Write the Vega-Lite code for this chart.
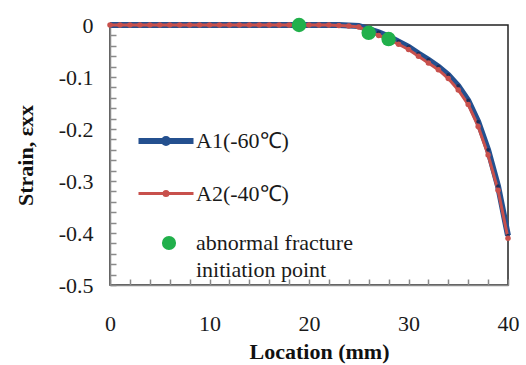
{
  "$schema": "https://vega.github.io/schema/vega-lite/v6.json",
  "width": 398,
  "height": 260,
  "autosize": "none",
  "padding": {"left": 110, "top": 25, "right": 18, "bottom": 80},
  "background": "white",
  "config": {
    "view": {"stroke": "#222222", "strokeWidth": 1.5},
    "font": "Liberation Serif, serif"
  },
  "datasets": {
    "curves": [
      {"series": "A1(-60℃)", "x": 0, "y": 0}, {"series": "A1(-60℃)", "x": 1, "y": 0}, {"series": "A1(-60℃)", "x": 2, "y": 0}, {"series": "A1(-60℃)", "x": 3, "y": 0}, {"series": "A1(-60℃)", "x": 4, "y": 0},
      {"series": "A1(-60℃)", "x": 5, "y": 0}, {"series": "A1(-60℃)", "x": 6, "y": 0}, {"series": "A1(-60℃)", "x": 7, "y": 0}, {"series": "A1(-60℃)", "x": 8, "y": 0}, {"series": "A1(-60℃)", "x": 9, "y": 0},
      {"series": "A1(-60℃)", "x": 10, "y": 0}, {"series": "A1(-60℃)", "x": 11, "y": 0}, {"series": "A1(-60℃)", "x": 12, "y": 0}, {"series": "A1(-60℃)", "x": 13, "y": 0}, {"series": "A1(-60℃)", "x": 14, "y": 0},
      {"series": "A1(-60℃)", "x": 15, "y": 0}, {"series": "A1(-60℃)", "x": 16, "y": 0}, {"series": "A1(-60℃)", "x": 17, "y": 0}, {"series": "A1(-60℃)", "x": 18, "y": 0}, {"series": "A1(-60℃)", "x": 19, "y": 0},
      {"series": "A1(-60℃)", "x": 20, "y": 0}, {"series": "A1(-60℃)", "x": 21, "y": 0}, {"series": "A1(-60℃)", "x": 22, "y": 0}, {"series": "A1(-60℃)", "x": 23, "y": 0}, {"series": "A1(-60℃)", "x": 24, "y": -0.001},
      {"series": "A1(-60℃)", "x": 25, "y": -0.002}, {"series": "A1(-60℃)", "x": 26, "y": -0.008}, {"series": "A1(-60℃)", "x": 27, "y": -0.014}, {"series": "A1(-60℃)", "x": 28, "y": -0.022}, {"series": "A1(-60℃)", "x": 29, "y": -0.032},
      {"series": "A1(-60℃)", "x": 30, "y": -0.042}, {"series": "A1(-60℃)", "x": 31, "y": -0.055}, {"series": "A1(-60℃)", "x": 32, "y": -0.067}, {"series": "A1(-60℃)", "x": 33, "y": -0.08}, {"series": "A1(-60℃)", "x": 34, "y": -0.096},
      {"series": "A1(-60℃)", "x": 35, "y": -0.117}, {"series": "A1(-60℃)", "x": 36, "y": -0.145}, {"series": "A1(-60℃)", "x": 37, "y": -0.186}, {"series": "A1(-60℃)", "x": 38, "y": -0.24}, {"series": "A1(-60℃)", "x": 39, "y": -0.31},
      {"series": "A1(-60℃)", "x": 40, "y": -0.405},
      {"series": "A2(-40℃)", "x": 0, "y": 0}, {"series": "A2(-40℃)", "x": 1, "y": 0}, {"series": "A2(-40℃)", "x": 2, "y": 0}, {"series": "A2(-40℃)", "x": 3, "y": 0}, {"series": "A2(-40℃)", "x": 4, "y": 0},
      {"series": "A2(-40℃)", "x": 5, "y": 0}, {"series": "A2(-40℃)", "x": 6, "y": 0}, {"series": "A2(-40℃)", "x": 7, "y": 0}, {"series": "A2(-40℃)", "x": 8, "y": 0}, {"series": "A2(-40℃)", "x": 9, "y": 0},
      {"series": "A2(-40℃)", "x": 10, "y": 0}, {"series": "A2(-40℃)", "x": 11, "y": 0}, {"series": "A2(-40℃)", "x": 12, "y": 0}, {"series": "A2(-40℃)", "x": 13, "y": 0}, {"series": "A2(-40℃)", "x": 14, "y": 0},
      {"series": "A2(-40℃)", "x": 15, "y": 0}, {"series": "A2(-40℃)", "x": 16, "y": 0}, {"series": "A2(-40℃)", "x": 17, "y": 0}, {"series": "A2(-40℃)", "x": 18, "y": 0}, {"series": "A2(-40℃)", "x": 19, "y": 0},
      {"series": "A2(-40℃)", "x": 20, "y": 0}, {"series": "A2(-40℃)", "x": 21, "y": 0}, {"series": "A2(-40℃)", "x": 22, "y": 0}, {"series": "A2(-40℃)", "x": 23, "y": -0.001}, {"series": "A2(-40℃)", "x": 24, "y": -0.002},
      {"series": "A2(-40℃)", "x": 25, "y": -0.004}, {"series": "A2(-40℃)", "x": 26, "y": -0.013}, {"series": "A2(-40℃)", "x": 27, "y": -0.02}, {"series": "A2(-40℃)", "x": 28, "y": -0.028}, {"series": "A2(-40℃)", "x": 29, "y": -0.037},
      {"series": "A2(-40℃)", "x": 30, "y": -0.047}, {"series": "A2(-40℃)", "x": 31, "y": -0.06}, {"series": "A2(-40℃)", "x": 32, "y": -0.073}, {"series": "A2(-40℃)", "x": 33, "y": -0.086}, {"series": "A2(-40℃)", "x": 34, "y": -0.103},
      {"series": "A2(-40℃)", "x": 35, "y": -0.125}, {"series": "A2(-40℃)", "x": 36, "y": -0.153}, {"series": "A2(-40℃)", "x": 37, "y": -0.195}, {"series": "A2(-40℃)", "x": 38, "y": -0.25}, {"series": "A2(-40℃)", "x": 39, "y": -0.318},
      {"series": "A2(-40℃)", "x": 40, "y": -0.41}
    ],
    "abnormal": [
      {"marker": "abnormal fracture initiation point", "x": 19, "y": 0},
      {"marker": "abnormal fracture initiation point", "x": 26, "y": -0.015},
      {"marker": "abnormal fracture initiation point", "x": 28, "y": -0.027}
    ]
  },
  "encoding": {
    "x": {
      "field": "x", "type": "quantitative",
      "scale": {"domain": [0, 40], "nice": false, "zero": false},
      "axis": {
        "values": [0, 2, 4, 6, 8, 10, 12, 14, 16, 18, 20, 22, 24, 26, 28, 30, 32, 34, 36, 38, 40],
        "labelExpr": "datum.value % 10 == 0 ? toString(datum.value) : ''",
        "labelOverlap": false,
        "labelFlush": false,
        "labelFont": "Liberation Serif, serif", "labelFontSize": 22, "labelColor": "#1a1a1a",
        "labelBaseline": "alphabetic", "labelPadding": 51,
        "tickSize": -6, "tickColor": "#8a8a8a", "tickWidth": 1.5,
        "domainColor": "#8a8a8a", "domainWidth": 1.5,
        "grid": false,
        "title": "Location (mm)",
        "titleFont": "Liberation Serif, serif", "titleFontSize": 22, "titleFontWeight": "bold", "titleColor": "#111111",
        "titleX": 209, "titleY": 73, "titleBaseline": "alphabetic", "titleAlign": "center"
      }
    },
    "y": {
      "field": "y", "type": "quantitative",
      "scale": {"domain": [-0.5, 0], "nice": false, "zero": false},
      "axis": {
        "values": [0, -0.02, -0.04, -0.06, -0.08, -0.1, -0.12, -0.14, -0.16, -0.18, -0.2, -0.22, -0.24, -0.26, -0.28, -0.3, -0.32, -0.34, -0.36, -0.38, -0.4, -0.42, -0.44, -0.46, -0.48, -0.5],
        "labelExpr": "abs(datum.value * 10 - round(datum.value * 10)) < 0.000001 ? (datum.value == 0 ? '0' : '-0.' + toString(round(-datum.value * 10))) : ''",
        "labelOverlap": false,
        "labelFlush": false,
        "labelFont": "Liberation Serif, serif", "labelFontSize": 22, "labelColor": "#1a1a1a",
        "labelPadding": 23, "labelBaseline": "middle",
        "tickSize": -6, "tickColor": "#8a8a8a", "tickWidth": 1.5,
        "domainColor": "#8a8a8a", "domainWidth": 1.5,
        "grid": false,
        "title": "Strain, εxx",
        "titleFont": "Liberation Serif, serif", "titleFontSize": 22, "titleFontWeight": "bold", "titleColor": "#111111",
        "titleX": -85, "titleY": 130, "titleAngle": -90, "titleBaseline": "middle", "titleAlign": "center"
      }
    }
  },
  "layer": [
    {
      "data": {"name": "curves"},
      "mark": {"type": "line"},
      "encoding": {
        "stroke": {
          "field": "series", "type": "nominal",
          "scale": {"domain": ["A1(-60℃)", "A2(-40℃)"], "range": ["#24508f", "#c8504c"]},
          "legend": {
            "orient": "none",
            "legendX": 43,
            "legendY": 103,
            "padding": 0,
            "title": null,
            "symbolType": "M-2.75,0H2.75M-0.2,0A0.2,0.2,0,1,0,0.2,0A0.2,0.2,0,1,0,-0.2,0Z",
            "symbolSize": 400,
            "symbolFillColor": "#1a2f5a",
            "rowPadding": 27,
            "labelOffset": 17,
            "labelFont": "Liberation Serif, serif",
            "labelFontSize": 22,
            "labelColor": "#1a1a1a",
            "labelLimit": 400
          }
        },
        "strokeWidth": {
          "field": "series", "type": "ordinal",
          "scale": {"domain": ["A1(-60℃)", "A2(-40℃)"], "range": [6, 3]},
          "legend": {
            "orient": "none",
            "legendX": 43,
            "legendY": 103,
            "padding": 0,
            "title": null
          }
        }
      }
    },
    {
      "data": {"name": "curves"},
      "transform": [{"filter": "datum.series == 'A1(-60℃)'"}],
      "mark": {"type": "point", "filled": true, "color": "#1a2f5a", "size": 14, "opacity": 1},
      "encoding": {}
    },
    {
      "data": {"name": "curves"},
      "transform": [{"filter": "datum.series == 'A2(-40℃)'"}],
      "mark": {"type": "point", "filled": true, "color": "#c8504c", "size": 30, "opacity": 1},
      "encoding": {}
    },
    {
      "data": {"name": "abnormal"},
      "mark": {"type": "point", "filled": true, "size": 210, "opacity": 1},
      "encoding": {
        "color": {
          "field": "marker", "type": "nominal",
          "scale": {
            "domain": ["abnormal fracture initiation point"],
            "range": ["#21b04b"]
          },
          "legend": {
            "orient": "none",
            "legendX": 48,
            "legendY": 207,
            "padding": 0,
            "title": null,
            "symbolType": "circle",
            "symbolSize": 200,
            "symbolOpacity": 1,
            "labelOffset": 16,
            "labelFont": "Liberation Serif, serif",
            "labelFontSize": 22,
            "labelColor": "#1a1a1a",
            "labelLimit": 400,
            "labelExpr": "['abnormal fracture', 'initiation point']",
            "encode": {"labels": {"update": {"lineHeight": {"value": 27}}}}
          }
        }
      }
    }
  ]
}
